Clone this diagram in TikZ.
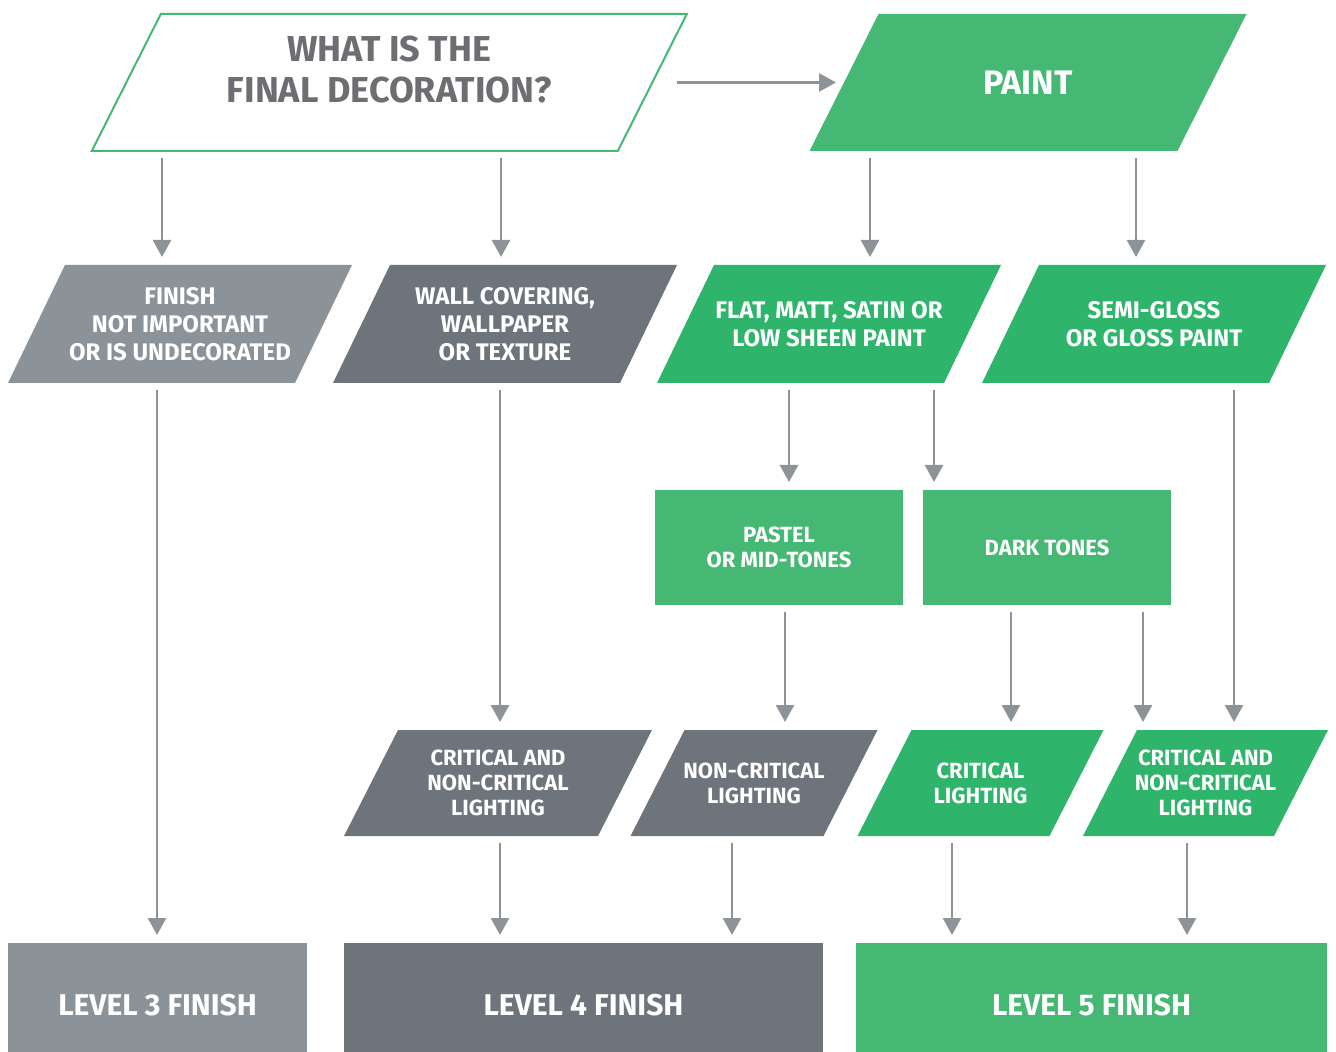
\documentclass[tikz,border=0pt]{standalone}
\usepackage{fontspec}
\setmainfont{Fira Sans}
\usetikzlibrary{arrows.meta,backgrounds}
\definecolor{lightgrey}{HTML}{8C9398}
\definecolor{darkgrey}{HTML}{6E747B}
\definecolor{softgreen}{HTML}{45B873}
\definecolor{brightgreen}{HTML}{2EB56B}
\definecolor{arrowgrey}{HTML}{8D9399}
\definecolor{textgrey}{HTML}{6D6E71}

\begin{document}
\begin{tikzpicture}[x=0.5pt, y=-0.5pt,
  block/.style={rectangle, inner sep=0pt, outer sep=0pt, align=center, text=white},
  rowtwo/.style={block, minimum width=143.5pt, minimum height=59pt,
    font=\fontsize{12}{14}\selectfont\bfseries},
  rowfour/.style={block, minimum height=53pt,
    font=\fontsize{11}{12.5}\selectfont\bfseries},
  tone/.style={block, fill=softgreen, minimum width=124pt, minimum height=57.5pt,
    font=\fontsize{11}{12.5}\selectfont\bfseries},
  level/.style={block, minimum height=62pt,
    font=\fontsize{15}{18}\selectfont\bfseries},
  arr/.style={draw=arrowgrey, line width=1.3pt, -{Triangle[width=9pt,length=8.5pt]},
    shorten <=3.5pt, shorten >=4pt}]
  \useasboundingbox (0,0) rectangle (1336,1052);

  % Pytanie i farba
  \node[block, text=textgrey, minimum width=263pt, minimum height=68.5pt,
    font=\fontsize{18}{20.5}\selectfont\bfseries] (q) at (389.3,82.5)
    {WHAT IS THE\\FINAL DECORATION?\rule[-13pt]{0pt}{13pt}};
  \node[block, minimum width=184pt, minimum height=68.5pt,
    font=\fontsize{17}{20}\selectfont\bfseries] (paint) at (1028,82.5) {PAINT};

  % Drugi rzad
  \node[rowtwo] (fin) at (180,324) {FINISH\\NOT IMPORTANT\\OR IS UNDECORATED};
  \node[rowtwo] (wall) at (505,324) {WALL COVERING,\\WALLPAPER\\OR TEXTURE};
  \node[rowtwo] (flat) at (829,324) {FLAT, MATT, SATIN OR\\LOW SHEEN PAINT};
  \node[rowtwo] (semi) at (1154,324) {SEMI-GLOSS\\OR GLOSS PAINT};

  % Odcienie
  \node[tone] (pastel) at (779,547.5) {PASTEL\\OR MID-TONES};
  \node[tone] (dark) at (1047,547.5) {DARK TONES};

  % Oswietlenie
  \node[rowfour, minimum width=127pt] (cnA) at (498,783)
    {CRITICAL AND\\NON-CRITICAL\\LIGHTING};
  \node[rowfour, minimum width=96.5pt] (nc) at (754,783) {NON-CRITICAL\\LIGHTING};
  \node[rowfour, minimum width=96pt] (cl) at (980.5,783) {CRITICAL\\LIGHTING};
  \node[rowfour, minimum width=95.5pt] (cnB) at (1205.5,783)
    {CRITICAL AND\\NON-CRITICAL\\LIGHTING};

  % Poziomy wykonczenia
  \node[level, fill=lightgrey, minimum width=149.5pt] (lvA) at (157.5,1005) {LEVEL 3 FINISH};
  \node[level, fill=darkgrey, minimum width=239.5pt] (lvB) at (583.5,1005) {LEVEL 4 FINISH};
  \node[level, fill=softgreen, minimum width=235.5pt] (lvC) at (1091.5,1005) {LEVEL 5 FINISH};

  % Rownolegloboki pod tekstem
  \begin{scope}[on background layer]
    \draw[softgreen, line width=1pt, fill=white]
      ([xshift=17.25pt]q.north west) -- ([xshift=17.25pt]q.north east)
      -- ([xshift=-17.25pt]q.south east) -- ([xshift=-17.25pt]q.south west) -- cycle;
    \foreach \n/\s/\c in {paint/17.25/softgreen, fin/14.25/lightgrey,
        wall/14.25/darkgrey, flat/14.25/brightgreen, semi/14.25/brightgreen,
        cnA/13.5/darkgrey, nc/13.5/darkgrey, cl/13.5/brightgreen, cnB/13.5/brightgreen}
      \fill[\c] ([xshift=\s pt]\n.north west) -- ([xshift=\s pt]\n.north east)
        -- ([xshift=-\s pt]\n.south east) -- ([xshift=-\s pt]\n.south west) -- cycle;
  \end{scope}

  % Kolumny strzalek
  \foreach \n/\x in {a/162, b/501, c/870, d/1136, e/157, f/500, g/789, h/934,
                     i/785, j/1011, k/1143, l/1234, m/732, n/952, o/1187}
    \coordinate (x\n) at (\x,0);

  \draw[arr, shorten <=12.5pt] (q.east) -- (paint.west);
  \draw[arr] (q.south -| xa) -- (fin.north -| xa);
  \draw[arr] (q.south -| xb) -- (wall.north -| xb);
  \draw[arr] (paint.south -| xc) -- (flat.north -| xc);
  \draw[arr] (paint.south -| xd) -- (semi.north -| xd);
  \draw[arr] (fin.south -| xe) -- (lvA.north -| xe);
  \draw[arr] (wall.south -| xf) -- (cnA.north -| xf);
  \draw[arr] (flat.south -| xg) -- (pastel.north -| xg);
  \draw[arr] (flat.south -| xh) -- (dark.north -| xh);
  \draw[arr] (pastel.south -| xi) -- (nc.north -| xi);
  \draw[arr] (dark.south -| xj) -- (cl.north -| xj);
  \draw[arr] (dark.south -| xk) -- (cnB.north -| xk);
  \draw[arr] (semi.south -| xl) -- (cnB.north -| xl);
  \draw[arr] (cnA.south -| xf) -- (lvB.north -| xf);
  \draw[arr] (nc.south -| xm) -- (lvB.north -| xm);
  \draw[arr] (cl.south -| xn) -- (lvC.north -| xn);
  \draw[arr] (cnB.south -| xo) -- (lvC.north -| xo);
\end{tikzpicture}
\end{document}
